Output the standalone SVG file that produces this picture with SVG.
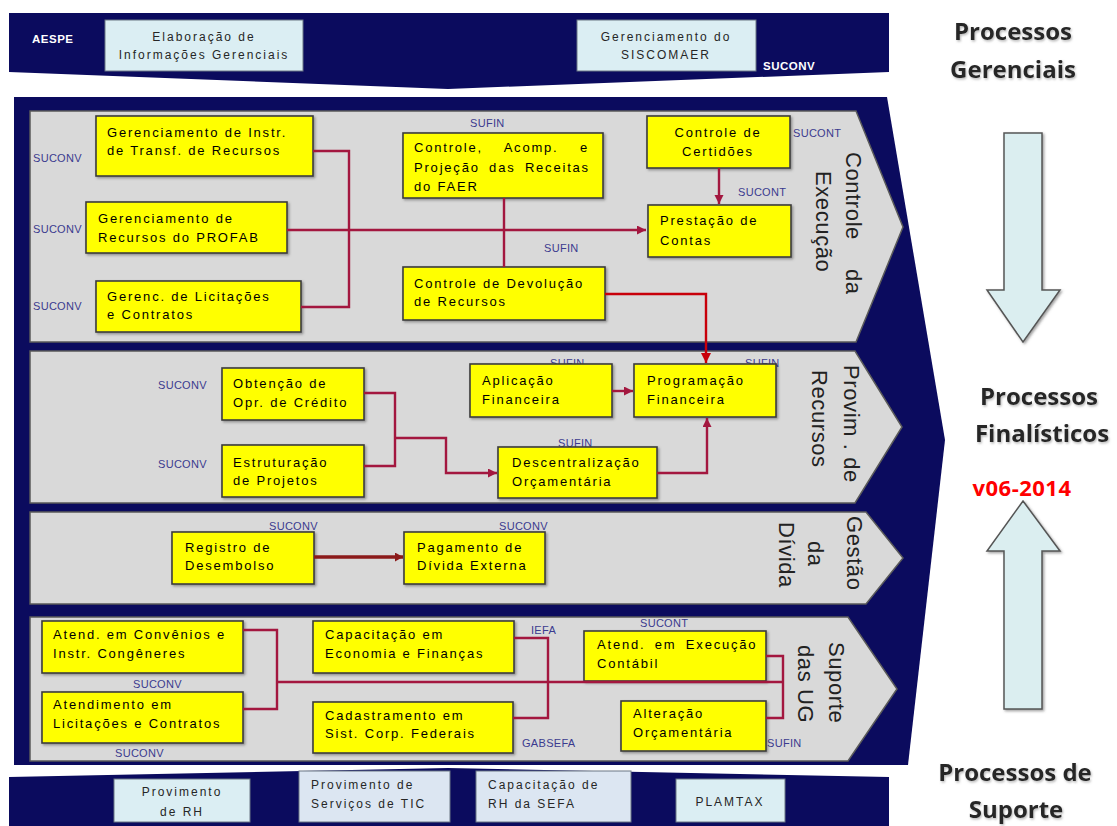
<svg xmlns="http://www.w3.org/2000/svg" width="1117" height="826" viewBox="0 0 1117 826">
  <defs>
    <style>
      .nav{fill:#0b0b5e}
      .lane{fill:#d9d9d9;stroke:#5a5a5a;stroke-width:1.5}
      .box{fill:#ffff00;stroke:#3c3c3c;stroke-width:1.6;filter:url(#sh)}
      .light{fill:#dbeef3;stroke:#6a7684;stroke-width:1}
      .lav{fill:#dce6f2;stroke:#6a7684;stroke-width:1}
      .t{font-family:"Liberation Sans",Arial,sans-serif;font-size:13px;letter-spacing:1.8px;fill:#000}
      .tc{text-anchor:middle}
      .tb{font-family:"Liberation Sans",Arial,sans-serif;font-size:12px;letter-spacing:2px;fill:#262626}
      .own{font-family:"Liberation Sans",Arial,sans-serif;font-size:11px;letter-spacing:0.3px;fill:#3b3b8f}
      .ownw{font-family:"Liberation Sans",Arial,sans-serif;font-size:11.5px;font-weight:bold;letter-spacing:0.5px;fill:#ffffff}
      .lbl{font-family:"Liberation Sans",Arial,sans-serif;font-size:22px;letter-spacing:0.6px;fill:#222}
      .hdr{font-family:"Open Sans","Liberation Sans",sans-serif;font-weight:bold;font-size:24px;fill:#262626;text-anchor:middle;filter:url(#tsh)}
      .ver{font-family:"Open Sans","Liberation Sans",sans-serif;font-weight:bold;font-size:22px;letter-spacing:0.5px;fill:#ff0000;text-anchor:middle}
      .big{fill:#dbeef0;stroke:#555;stroke-width:1.5;filter:url(#sh)}
      .con{fill:none;stroke:#a3173f;stroke-width:2.4}
      .con-red{fill:none;stroke:#c8000a;stroke-width:2.4}
      .con-dk{fill:none;stroke:#8b1a1a;stroke-width:3.5}
    </style>
    <filter id="sh" x="-10%" y="-10%" width="120%" height="130%">
      <feDropShadow dx="1.5" dy="1.5" stdDeviation="1" flood-color="#444" flood-opacity="0.5"/>
    </filter>
    <filter id="tsh" x="-10%" y="-20%" width="120%" height="150%">
      <feDropShadow dx="1" dy="1.5" stdDeviation="1" flood-color="#888" flood-opacity="0.6"/>
    </filter>
    <marker id="ah" markerUnits="userSpaceOnUse" markerWidth="10" markerHeight="10" refX="9" refY="4.5" orient="auto">
      <path d="M0,0 L9,4.5 L0,9 z" fill="#a3173f"/>
    </marker>
    <marker id="ah-red" markerUnits="userSpaceOnUse" markerWidth="12" markerHeight="12" refX="10" refY="5" orient="auto">
      <path d="M0,0 L10,5 L0,10 z" fill="#c8000a"/>
    </marker>
    <marker id="ah-dk" markerUnits="userSpaceOnUse" markerWidth="10" markerHeight="10" refX="8" refY="4.5" orient="auto">
      <path d="M0,0 L8,4.5 L0,9 z" fill="#8b1a1a"/>
    </marker>
  </defs>

  <rect width="1117" height="826" fill="#ffffff"/>

  <!-- management band -->
  <g id="band-gerenciais">
    <polygon class="nav" points="9,13 889,13 889,72 448,89 9,72"/>
    <text class="ownw" x="32" y="43">AESPE</text>
    <text class="ownw" x="763" y="70">SUCONV</text>
  </g>
  <g id="n-elaboracao">
    <rect class="light" x="105" y="20" width="198" height="51"/>
    <text class="tb tc" x="204" y="41">Elaboração de</text>
    <text class="tb tc" x="204" y="59">Informações Gerenciais</text>
  </g>
  <g id="n-siscomaer">
    <rect class="light" x="577" y="20" width="179" height="51"/>
    <text class="tb tc" x="666" y="41">Gerenciamento do</text>
    <text class="tb tc" x="666" y="59">SISCOMAER</text>
  </g>

  <!-- core process chevron and lanes -->
  <g id="band-finalisticos">
    <polygon class="nav" points="14,97 887,97 945,440 908,765 14,765"/>
  </g>
  <g id="lane-execucao">
    <polygon class="lane" points="30,111 856,111 903,227 856,342 30,342"/>
    <g transform="translate(846,152) rotate(90)"><text class="lbl" x="0" y="0">Controle</text><text class="lbl" x="117" y="0">da</text></g>
    <g transform="translate(816,171) rotate(90)"><text class="lbl" x="0" y="0">Execução</text></g>
  </g>
  <g id="lane-recursos">
    <polygon class="lane" points="30,351 855,351 902,427 855,503 30,503"/>
    <g transform="translate(844,365) rotate(90)"><text class="lbl" x="0" y="0">Provim . de</text></g>
    <g transform="translate(812,370) rotate(90)"><text class="lbl" x="0" y="0">Recursos</text></g>
  </g>
  <g id="lane-divida">
    <polygon class="lane" points="30,512 866,512 903,558 866,604 30,604"/>
    <g transform="translate(847,516) rotate(90)"><text class="lbl" x="0" y="0">Gestão</text></g>
    <g transform="translate(808,541) rotate(90)"><text class="lbl" x="0" y="0">da</text></g>
    <g transform="translate(779,522) rotate(90)"><text class="lbl" x="0" y="0">Dívida</text></g>
  </g>
  <g id="lane-suporte-ug">
    <polygon class="lane" points="30,617 848,617 897,689 848,761 30,761"/>
    <g transform="translate(829,642) rotate(90)"><text class="lbl" x="0" y="0">Suporte</text></g>
    <g transform="translate(798,645) rotate(90)"><text class="lbl" x="0" y="0">das UG</text></g>
  </g>

  <!-- Controle da Execução -->
  <g id="n-instr-transf">
    <text class="own" x="33" y="162">SUCONV</text>
    <rect class="box" x="96" y="116" width="217" height="60"/>
    <text class="t" x="107" y="137">Gerenciamento de Instr.</text>
    <text class="t" x="107" y="155">de Transf. de Recursos</text>
  </g>
  <g id="n-profab">
    <text class="own" x="33" y="233">SUCONV</text>
    <rect class="box" x="86" y="202" width="201" height="51"/>
    <text class="t" x="98" y="223">Gerenciamento de</text>
    <text class="t" x="98" y="242">Recursos do PROFAB</text>
  </g>
  <g id="n-licitacoes">
    <text class="own" x="33" y="310">SUCONV</text>
    <rect class="box" x="96" y="281" width="205" height="51"/>
    <text class="t" x="107" y="301">Gerenc. de Licitações</text>
    <text class="t" x="107" y="319">e Contratos</text>
  </g>
  <g id="n-faer">
    <text class="own" x="470" y="127">SUFIN</text>
    <rect class="box" x="403" y="133" width="200" height="65"/>
    <text class="t" x="414" y="152" word-spacing="16">Controle, Acomp. e</text>
    <text class="t" x="414" y="172" word-spacing="4">Projeção das Receitas</text>
    <text class="t" x="414" y="191">do FAER</text>
  </g>
  <g id="n-devolucao">
    <text class="own" x="544" y="252">SUFIN</text>
    <rect class="box" x="403" y="267" width="202" height="53"/>
    <text class="t" x="414" y="288">Controle de Devolução</text>
    <text class="t" x="414" y="306">de Recursos</text>
  </g>
  <g id="n-certidoes">
    <text class="own" x="793" y="137">SUCONT</text>
    <rect class="box" x="647" y="116" width="143" height="52"/>
    <text class="t tc" x="718" y="137">Controle de</text>
    <text class="t tc" x="718" y="156">Certidões</text>
  </g>
  <g id="n-prestacao">
    <text class="own" x="738" y="196">SUCONT</text>
    <rect class="box" x="648" y="205" width="143" height="52"/>
    <text class="t" x="660" y="225">Prestação de</text>
    <text class="t" x="660" y="245">Contas</text>
  </g>

  <!-- Provimento de Recursos -->
  <g id="n-obtencao">
    <text class="own" x="158" y="389">SUCONV</text>
    <rect class="box" x="222" y="368" width="142" height="52"/>
    <text class="t" x="233" y="388">Obtenção de</text>
    <text class="t" x="233" y="407">Opr. de Crédito</text>
  </g>
  <g id="n-estruturacao">
    <text class="own" x="158" y="468">SUCONV</text>
    <rect class="box" x="222" y="445" width="142" height="52"/>
    <text class="t" x="233" y="467">Estruturação</text>
    <text class="t" x="233" y="485">de Projetos</text>
  </g>
  <g id="n-aplicacao">
    <text class="own" x="550" y="367">SUFIN</text>
    <rect class="box" x="470" y="364" width="142" height="53"/>
    <text class="t" x="482" y="385">Aplicação</text>
    <text class="t" x="482" y="404">Financeira</text>
  </g>
  <g id="n-programacao">
    <text class="own" x="745" y="367">SUFIN</text>
    <rect class="box" x="634" y="364" width="142" height="53"/>
    <text class="t" x="647" y="385">Programação</text>
    <text class="t" x="647" y="404">Financeira</text>
  </g>
  <g id="n-descentralizacao">
    <text class="own" x="558" y="447">SUFIN</text>
    <rect class="box" x="498" y="447" width="159" height="51"/>
    <text class="t" x="512" y="467">Descentralização</text>
    <text class="t" x="512" y="486">Orçamentária</text>
  </g>

  <!-- Gestão da Dívida -->
  <g id="n-registro">
    <text class="own" x="269" y="530">SUCONV</text>
    <rect class="box" x="172" y="532" width="142" height="52"/>
    <text class="t" x="185" y="552">Registro de</text>
    <text class="t" x="185" y="570">Desembolso</text>
  </g>
  <g id="n-pagamento">
    <text class="own" x="499" y="530">SUCONV</text>
    <rect class="box" x="404" y="532" width="141" height="52"/>
    <text class="t" x="417" y="552">Pagamento de</text>
    <text class="t" x="417" y="570">Dívida Externa</text>
  </g>

  <!-- Suporte das UG -->
  <g id="n-convenios">
    <text class="own" x="133" y="688">SUCONV</text>
    <rect class="box" x="42" y="621" width="201" height="52"/>
    <text class="t" x="53" y="639">Atend. em Convênios e</text>
    <text class="t" x="53" y="658">Instr. Congêneres</text>
  </g>
  <g id="n-atend-licitacoes">
    <text class="own" x="115" y="757">SUCONV</text>
    <rect class="box" x="42" y="692" width="201" height="51"/>
    <text class="t" x="53" y="709">Atendimento em</text>
    <text class="t" x="53" y="728">Licitações e Contratos</text>
  </g>
  <g id="n-capacitacao-economia">
    <text class="own" x="531" y="634">IEFA</text>
    <rect class="box" x="313" y="621" width="201" height="52"/>
    <text class="t" x="325" y="639">Capacitação em</text>
    <text class="t" x="325" y="658">Economia e Finanças</text>
  </g>
  <g id="n-cadastramento">
    <text class="own" x="522" y="747">GABSEFA</text>
    <rect class="box" x="313" y="702" width="200" height="51"/>
    <text class="t" x="325" y="720">Cadastramento em</text>
    <text class="t" x="325" y="738">Sist. Corp. Federais</text>
  </g>
  <g id="n-execucao-contabil">
    <text class="own" x="640" y="627">SUCONT</text>
    <rect class="box" x="584" y="631" width="182" height="50"/>
    <text class="t" x="597" y="649" word-spacing="4">Atend. em Execução</text>
    <text class="t" x="597" y="668">Contábil</text>
  </g>
  <g id="n-alteracao">
    <text class="own" x="767" y="747">SUFIN</text>
    <rect class="box" x="621" y="701" width="145" height="50"/>
    <text class="t" x="633" y="718">Alteração</text>
    <text class="t" x="633" y="737">Orçamentária</text>
  </g>

  <!-- support band -->
  <g id="band-suporte">
    <polygon class="nav" points="9,777 448,768 889,777 889,826 9,826"/>
  </g>
  <g id="n-provimento-rh">
    <rect class="light" x="114" y="779" width="136" height="43"/>
    <text class="tb tc" x="182" y="796">Provimento</text>
    <text class="tb tc" x="182" y="816">de RH</text>
  </g>
  <g id="n-provimento-tic">
    <rect class="lav" x="299" y="771" width="151" height="51"/>
    <text class="tb" x="311" y="789">Provimento de</text>
    <text class="tb" x="311" y="808">Serviços de TIC</text>
  </g>
  <g id="n-capacitacao-rh">
    <rect class="lav" x="476" y="771" width="155" height="51"/>
    <text class="tb" x="488" y="789">Capacitação de</text>
    <text class="tb" x="488" y="808">RH da SEFA</text>
  </g>
  <g id="n-plamtax">
    <rect class="light" x="676" y="779" width="109" height="43"/>
    <text class="tb tc" x="730" y="806">PLAMTAX</text>
  </g>

  <!-- connectors -->
  <g id="connectors">
    <path class="con" d="M313,151 H349 V307 H301"/>
    <path class="con" d="M287,230 H646" marker-end="url(#ah)"/>
    <path class="con" d="M504,198 V267"/>
    <path class="con" d="M719,168 V204" marker-end="url(#ah)"/>
    <path class="con-red" d="M605,294 H706 V363" marker-end="url(#ah-red)"/>
    <path class="con" d="M364,393 H395 V466 H364"/>
    <path class="con" d="M395,438 H446 V473 H497" marker-end="url(#ah)"/>
    <path class="con" d="M612,391 H633" marker-end="url(#ah)"/>
    <path class="con" d="M657,473 H707 V418" marker-end="url(#ah)"/>
    <path class="con-dk" d="M314,557 H403" marker-end="url(#ah-dk)"/>
    <path class="con" d="M243,630 H277 V709 H243"/>
    <path class="con" d="M277,682 H783"/>
    <path class="con" d="M514,638 H548 V718 H513"/>
    <path class="con" d="M766,656 H783 V718 H766"/>
  </g>

  <!-- legend column -->
  <g id="legend">
    <text class="hdr" x="1013" y="40">Processos</text>
    <text class="hdr" x="1013" y="78">Gerenciais</text>
    <polygon class="big" points="1004,133 1042,133 1042,290 1060,290 1023,342 987,290 1004,290"/>
    <text class="hdr" x="1039" y="405">Processos</text>
    <text class="hdr" x="1042" y="442">Finalísticos</text>
    <text class="ver" x="1022" y="496">v06-2014</text>
    <polygon class="big" points="1023,501 1060,551 1042,551 1042,709 1004,709 1004,551 987,551"/>
    <text class="hdr" x="1015" y="781">Processos de</text>
    <text class="hdr" x="1016" y="818">Suporte</text>
  </g>
</svg>
